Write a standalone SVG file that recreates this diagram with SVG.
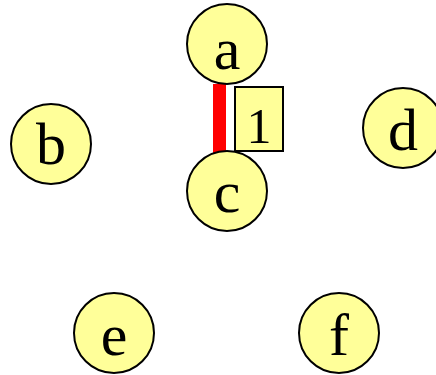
<svg xmlns="http://www.w3.org/2000/svg" width="436" height="375" viewBox="0 0 436 375">
<style>
.n circle{fill:#ffff99;stroke:#000;stroke-width:2}
.n text{font-family:"Liberation Serif",serif;font-size:60px;text-anchor:middle;fill:#000}
.lbl rect{fill:#ffff99;stroke:#000;stroke-width:2}
.lbl text{font-family:"Liberation Serif",serif;font-size:50px;text-anchor:middle;fill:#000}
</style>
<rect width="436" height="375" fill="#fff"/>
<g id="connectors">
<rect x="213" y="84" width="13" height="69" fill="#ff0000"/>
</g>
<g id="a" class="n"><circle cx="227" cy="44" r="40"/><text x="227" y="69">a</text></g>
<g id="b" class="n"><circle cx="51" cy="144" r="40"/><text x="51" y="164">b</text></g>
<g id="c" class="n"><circle cx="227" cy="191" r="40"/><text x="227" y="212">c</text></g>
<g id="d" class="n"><circle cx="403" cy="128" r="40"/><text x="403" y="150">d</text></g>
<g id="e" class="n"><circle cx="114" cy="333" r="40"/><text x="114" y="355">e</text></g>
<g id="f" class="n"><circle cx="339" cy="333" r="40"/><text x="339" y="355">f</text></g>
<g id="label1" class="lbl"><rect x="235" y="87" width="48" height="64"/><text x="259" y="143">1</text></g>
</svg>
